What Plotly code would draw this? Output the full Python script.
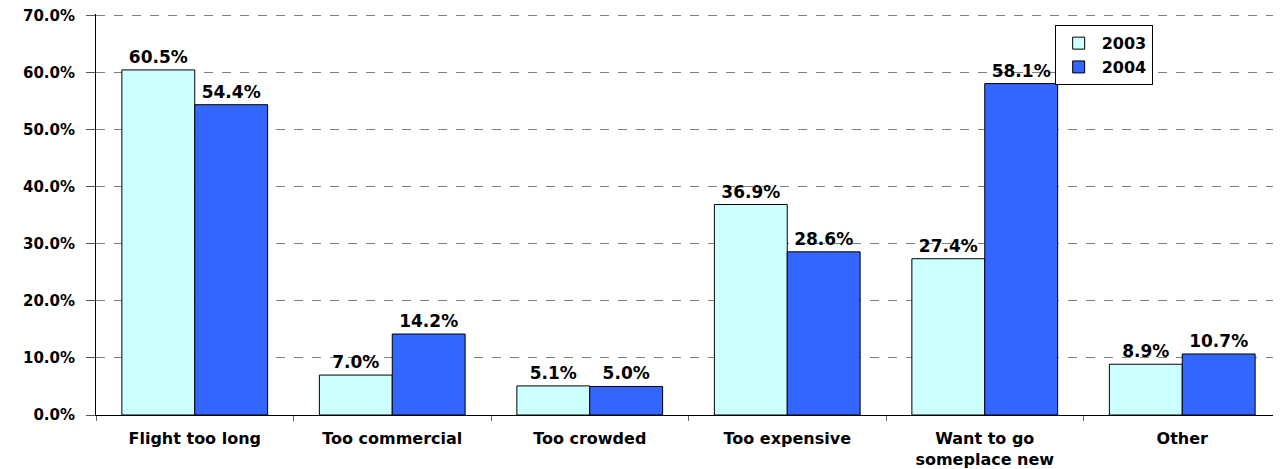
import plotly.graph_objects as go

categories = ["Flight too long", "Too commercial", "Too crowded", "Too expensive",
              "Want to go<br>someplace new", "Other"]
values_2003 = [60.5, 7.0, 5.1, 36.9, 27.4, 8.9]
values_2004 = [54.4, 14.2, 5.0, 28.6, 58.1, 10.7]
tick_vals = [0, 10, 20, 30, 40, 50, 60, 70]
tick_text = ["0.0%", "10.0%", "20.0%", "30.0%", "40.0%", "50.0%", "60.0%", "70.0%"]

FONT = "DejaVu Sans, Verdana, sans-serif"

fig = go.Figure()
fig.add_trace(go.Bar(
    name="2003", x=categories, y=values_2003,
    marker=dict(color="#CCFFFF", line=dict(color="black", width=1)),
    texttemplate="%{y:.1f}%", textposition="outside",
    textfont=dict(family=FONT, size=17, color="black", weight="bold"),
    cliponaxis=False,
))
fig.add_trace(go.Bar(
    name="2004", x=categories, y=values_2004,
    marker=dict(color="#3366FF", line=dict(color="black", width=1)),
    texttemplate="%{y:.1f}%", textposition="outside",
    textfont=dict(family=FONT, size=17, color="black", weight="bold"),
    cliponaxis=False,
))

fig.update_layout(
    width=1273, height=461,
    margin=dict(l=88, r=0, t=6, b=54, autoexpand=False),
    paper_bgcolor="white", plot_bgcolor="white",
    barmode="group", bargap=0.262, bargroupgap=0,
    font=dict(family=FONT, size=16, color="black"),
    showlegend=True,
    legend=dict(
        x=0.809, y=0.972, xanchor="left", yanchor="top",
        bgcolor="white", bordercolor="black", borderwidth=1,
        font=dict(family=FONT, size=16, color="black", weight="bold"),
        tracegroupgap=0, itemwidth=36,
    ),
)
fig.update_xaxes(
    showline=True, linecolor="black", linewidth=1,
    ticks="outside", tickson="boundaries", ticklen=5, tickcolor="#666666",
    tickfont=dict(family=FONT, size=16, color="black", weight="bold"),
    ticklabelstandoff=9,
    showgrid=False, automargin=False,
)
fig.update_yaxes(
    range=[0, 70.3], tickvals=tick_vals, ticktext=tick_text,
    showline=True, linecolor="black", linewidth=1,
    ticks="outside", ticklen=9, tickcolor="#555555",
    tickfont=dict(family=FONT, size=15, color="black", weight="bold"),
    ticklabelstandoff=8, ticklabeloverflow="allow",
    showgrid=True, gridcolor="#808080", gridwidth=1, griddash="dash",
    zeroline=False, automargin=False,
)

fig.write_html("out.html")
